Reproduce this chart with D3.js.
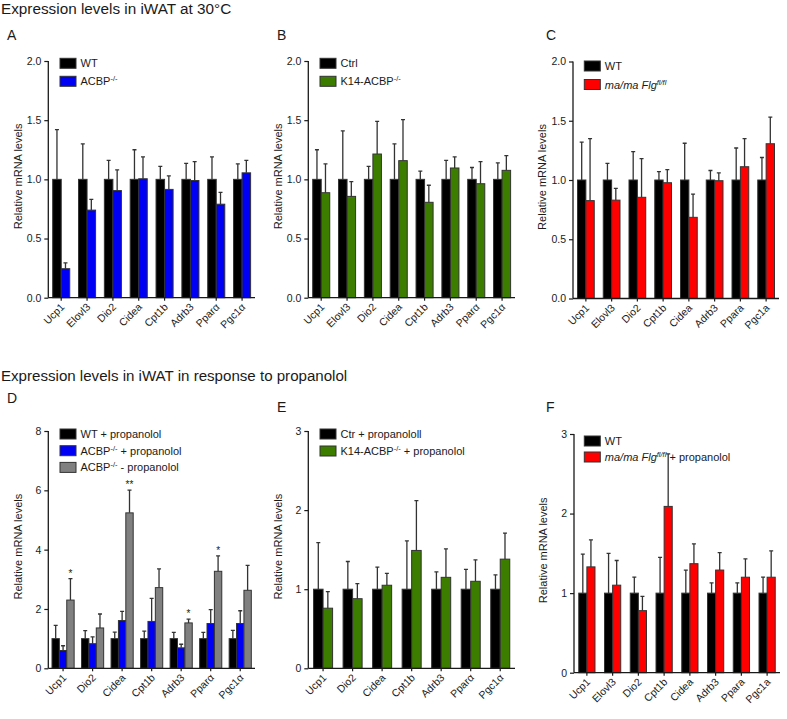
<!DOCTYPE html>
<html><head><meta charset="utf-8">
<script src="https://cdn.jsdelivr.net/npm/d3@7"></script>
<style>
html,body{margin:0;padding:0;background:#fff;}
text{font-family:"Liberation Sans",Arial,Helvetica,sans-serif;}
</style></head>
<body><svg id="c" width="787" height="719"></svg>
<script>
// ---------- DATA ----------
const titleTop = "Expression levels in iWAT at 30°C";
const titleBottom = "Expression levels in iWAT in response to propanolol";

// Panel A
const genesA = ["Ucp1","Elovl3","Dio2","Cidea","Cpt1b","Adrb3","Pparα","Pgc1α"];
const wtA = [1,1,1,1,1,1,1,1];
const wtSemA = [0.42,0.30,0.16,0.25,0.11,0.135,0.19,0.13];
const koA = [0.245,0.74,0.905,1.005,0.915,0.99,0.79,1.055];
const koSemA = [0.05,0.09,0.175,0.185,0.115,0.16,0.10,0.105];

// Panel B
const genesB = ["Ucp1","Elovl3","Dio2","Cidea","Cpt1b","Adrb3","Pparα","Pgc1α"];
const ctrlB = [1,1,1,1,1,1,1,1];
const ctrlSemB = [0.25,0.41,0.11,0.30,0.07,0.16,0.10,0.14];
const k14B = [0.887,0.856,1.214,1.158,0.806,1.096,0.963,1.076];
const k14SemB = [0.243,0.124,0.276,0.346,0.144,0.094,0.187,0.124];

// Panel C
const genesC = ["Ucp1","Elovl3","Dio2","Cpt1b","Cidea","Adrb3","Ppara","Pgc1a"];
const wtC = [1,1,1,1,1,1,1,1];
const wtSemC = [0.32,0.14,0.24,0.07,0.31,0.08,0.27,0.19];
const maC = [0.826,0.83,0.854,0.977,0.685,0.994,1.112,1.306];
const maSemC = [0.524,0.10,0.326,0.11,0.195,0.066,0.238,0.224];

// Panel D
const genesD = ["Ucp1","Dio2","Cidea","Cpt1b","Adrb3","Pparα","Pgc1α"];
const wtD = [1,1,1,1,1,1,1];
const wtSemD = [0.45,0.27,0.22,0.25,0.21,0.21,0.28];
const koPlusD = [0.60,0.83,1.61,1.58,0.69,1.51,1.51];
const koPlusSemD = [0.16,0.23,0.31,0.78,0.12,0.47,0.43];
const koMinusD = [2.30,1.36,5.24,2.72,1.53,3.27,2.63];
const koMinusSemD = [0.72,0.47,0.77,0.63,0.13,0.52,0.84];
const starsD = ["*","","**","","*","*",""];

// Panel E
const genesE = ["Ucp1","Dio2","Cidea","Cpt1b","Adrb3","Pparα","Pgc1α"];
const ctrE = [1,1,1,1,1,1,1];
const ctrSemE = [0.59,0.35,0.28,0.61,0.22,0.25,0.18];
const k14E = [0.76,0.88,1.05,1.49,1.15,1.10,1.38];
const k14SemE = [0.21,0.19,0.15,0.63,0.36,0.27,0.33];

// Panel F
const genesF = ["Ucp1","Elovl3","Dio2","Cpt1b","Cidea","Adrb3","Ppara","Pgc1a"];
const wtF = [1,1,1,1,1,1,1,1];
const wtSemF = [0.49,0.50,0.20,0.45,0.29,0.13,0.13,0.20];
const maF = [1.33,1.10,0.78,2.09,1.37,1.29,1.20,1.20];
const maSemF = [0.34,0.31,0.18,0.66,0.25,0.22,0.23,0.33];

// Tick values
const ticksTop = [0,0.5,1,1.5,2];
const ticksD = [0,2,4,6,8];
const ticksEF = [0,1,2,3];

// Legend labels (segments: text, italic, superscript)
const legA = [[{t:"WT"}],[{t:"ACBP"},{t:"-/-",sup:true}]];
const legB = [[{t:"Ctrl"}],[{t:"K14-ACBP"},{t:"-/-",sup:true}]];
const legC = [[{t:"WT"}],[{t:"ma/ma Flg",it:true},{t:"fl/fl",it:true,sup:true}]];
const legD = [[{t:"WT + propanolol"}],[{t:"ACBP"},{t:"-/-",sup:true},{t:" + propanolol"}],[{t:"ACBP"},{t:"-/-",sup:true},{t:" - propanolol"}]];
const legE = [[{t:"Ctr + propanololl"}],[{t:"K14-ACBP"},{t:"-/-",sup:true},{t:" + propanolol"}]];
const legF = [[{t:"WT"}],[{t:"ma/ma Flg",it:true},{t:"fl/fl",it:true,sup:true},{t:" + propanolol"}]];

const yLabel = "Relative mRNA levels";

// ---------- STYLE ----------
const BLACK="#000000", BLUE="#0000f5", GREEN="#3c7d00", RED="#ff0000", GRAY="#808080";
const STROKE="#333333", INK="#1a1a1a";

const svg = d3.select("#c");
svg.append("rect").attr("width",787).attr("height",719).attr("fill","#fff");

svg.append("text").attr("x",1).attr("y",13.5).attr("font-size",15.3).attr("fill",INK).text(titleTop);
svg.append("text").attr("x",1).attr("y",381).attr("font-size",15.1).attr("fill",INK).text(titleBottom);

function drawPanel(o){
  const g = svg.append("g");
  const x0 = d3.scaleBand().domain(o.genes).range([o.left,o.right])
      .paddingInner(o.pad).paddingOuter(o.pad/2);
  const keys = o.series.map((s,i)=>i);
  const x1 = d3.scaleBand().domain(keys).range([0,x0.bandwidth()]);
  const y = d3.scaleLinear().domain([0,o.max]).range([o.bottom,o.top]);

  // letter
  svg.append("text").attr("x",o.letterX).attr("y",o.letterY).attr("font-size",14).attr("fill",INK).text(o.letter);

  // bars
  o.series.forEach((s,si)=>{
    const sg = g.append("g");
    sg.selectAll("rect").data(o.genes).join("rect")
      .attr("x",(d)=>x0(d)+x1(si))
      .attr("y",(d,i)=>y(s.values[i]))
      .attr("width",x1.bandwidth())
      .attr("height",(d,i)=>y(0)-y(s.values[i]))
      .attr("fill",s.color).attr("stroke",STROKE).attr("stroke-width",1);
    // error bars (upper only)
    sg.selectAll("path.err").data(o.genes).join("path").attr("class","err")
      .attr("d",(d,i)=>{
        const cx = x0(d)+x1(si)+x1.bandwidth()/2;
        const yt = y(s.values[i]+s.sems[i]), yb = y(s.values[i]);
        return `M${cx},${yb}V${yt}M${cx-2},${yt}H${cx+2}`;
      })
      .attr("fill","none").attr("stroke",STROKE).attr("stroke-width",1.3);
  });

  // stars
  if(o.stars){
    const si = o.series.length-1, s=o.series[si];
    g.selectAll("text.star").data(o.genes).join("text").attr("class","star")
      .attr("x",(d)=>x0(d)+x1(si)+x1.bandwidth()/2)
      .attr("y",(d,i)=>y(s.values[i]+s.sems[i])-2)
      .attr("text-anchor","middle").attr("font-size",10).attr("fill",INK)
      .text((d,i)=>o.stars[i]);
  }

  // y axis
  const ya = g.append("g").attr("transform",`translate(${o.left},0)`)
    .call(d3.axisLeft(y).tickValues(o.ticks).tickFormat(o.fmt).tickSize(4).tickPadding(3));
  ya.select(".domain").attr("d",`M0,${o.bottom}V${o.top}`).attr("stroke",INK).attr("stroke-width",1.3);
  ya.selectAll(".tick line").attr("stroke",INK).attr("stroke-width",1.2);
  ya.selectAll(".tick text").attr("font-size",10.5).attr("fill",INK).attr("font-family","Liberation Sans, Arial, sans-serif");

  // x axis
  const xa = g.append("g").attr("transform",`translate(0,${o.bottom})`)
    .call(d3.axisBottom(x0).tickSize(3).tickSizeOuter(0));
  xa.select(".domain").attr("d",`M${o.left},0H${o.right}`).attr("stroke",INK).attr("stroke-width",1.3);
  xa.selectAll(".tick line").attr("stroke",INK).attr("stroke-width",1.2);
  xa.selectAll(".tick text").attr("font-size",10.5).attr("fill",INK)
    .attr("font-family","Liberation Sans, Arial, sans-serif")
    .attr("text-anchor","end").attr("dy",null).attr("y",null)
    .attr("transform","translate(4,10) rotate(-45)");

  // y label
  svg.append("text").attr("transform",`translate(${o.left-26.7},${(o.top+o.bottom)/2-3}) rotate(-90)`)
    .attr("text-anchor","middle").attr("font-size",11).attr("fill",INK).text(yLabel);

  // legend
  o.legend.forEach((item,i)=>{
    const ly = o.legY + i*o.legStep;
    svg.append("rect").attr("x",o.legX).attr("y",ly).attr("width",16).attr("height",10)
      .attr("fill",o.series[i].color).attr("stroke",STROKE).attr("stroke-width",1);
    const t = svg.append("text").attr("x",o.legX+20.5).attr("y",ly+9).attr("font-size",11).attr("fill",INK);
    let sup=false;
    item.forEach(seg=>{
      const ts = t.append("tspan").text(seg.t);
      if(seg.it) ts.attr("font-style","italic");
      if(seg.sup){ ts.attr("font-size",7.5).attr("dy",-4); sup=true; }
      else if(sup){ ts.attr("dy",4); sup=false; }
    });
  });
}

const f1 = d3.format(".1f"), f0 = d3.format("d");

drawPanel({genes:genesA, series:[{values:wtA,sems:wtSemA,color:BLACK},{values:koA,sems:koSemA,color:BLUE}],
  left:48.3,right:255,top:61,bottom:297.7,max:2,ticks:ticksTop,fmt:f1,pad:0.34,
  letter:"A",letterX:7,letterY:40,legend:legA,legX:60,legY:58.3,legStep:18});
drawPanel({genes:genesB, series:[{values:ctrlB,sems:ctrlSemB,color:BLACK},{values:k14B,sems:k14SemB,color:GREEN}],
  left:308.3,right:515,top:61,bottom:297.7,max:2,ticks:ticksTop,fmt:f1,pad:0.34,
  letter:"B",letterX:277,letterY:40,legend:legB,legX:320,legY:58.3,legStep:18});
drawPanel({genes:genesC, series:[{values:wtC,sems:wtSemC,color:BLACK},{values:maC,sems:maSemC,color:RED}],
  left:573,right:779,top:61.5,bottom:298.5,max:2,ticks:ticksTop,fmt:f1,pad:0.35,
  letter:"C",letterX:546,letterY:40,legend:legC,legX:584.3,legY:61,legStep:18.5});
drawPanel({genes:genesD, series:[{values:wtD,sems:wtSemD,color:BLACK},{values:koPlusD,sems:koPlusSemD,color:BLUE},{values:koMinusD,sems:koMinusSemD,color:GRAY}],
  left:48.3,right:255,top:431,bottom:668.3,max:8,ticks:ticksD,fmt:f0,pad:0.25,stars:starsD,
  letter:"D",letterX:7,letterY:403,legend:legD,legX:60,legY:429,legStep:16.7});
drawPanel({genes:genesE, series:[{values:ctrE,sems:ctrSemE,color:BLACK},{values:k14E,sems:k14SemE,color:GREEN}],
  left:308.3,right:515,top:431,bottom:668.3,max:3,ticks:ticksEF,fmt:f0,pad:0.355,
  letter:"E",letterX:277,letterY:411.5,legend:legE,legX:320,legY:429,legStep:17});
drawPanel({genes:genesF, series:[{values:wtF,sems:wtSemF,color:BLACK},{values:maF,sems:maSemF,color:RED}],
  left:574,right:780,top:434,bottom:672.7,max:3,ticks:ticksEF,fmt:f0,pad:0.37,
  letter:"F",letterX:546,letterY:411.5,legend:legF,legX:584.3,legY:436,legStep:16});
</script></body></html>
